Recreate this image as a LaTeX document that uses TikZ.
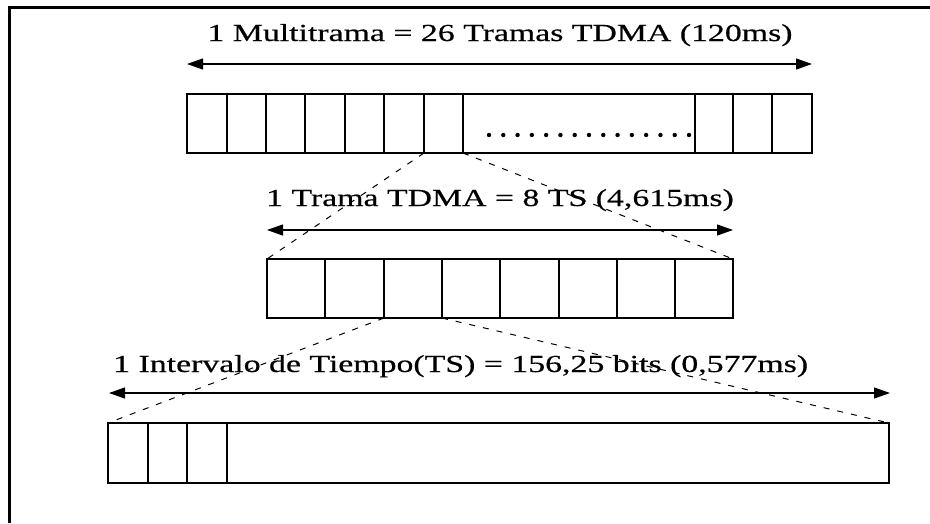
\documentclass[tikz,border=0pt]{standalone}
\usepackage{fontspec}
\setmainfont{Liberation Serif}[FakeBold=0.4]
\usetikzlibrary{arrows.meta}
\begin{document}
\begin{tikzpicture}[x=1pt,y=-1pt,
  cell/.style={draw, line width=1.2pt, inner sep=0pt, outer sep=0pt, anchor=north west},
  lbl/.style={inner sep=0pt, font=\fontsize{24.5}{29}\selectfont},
  zoomline/.style={line width=1pt, dash pattern=on 6pt off 8pt},
  dimarrow/.style={line width=1.2pt, {Triangle[length=16pt,width=11pt]}-{Triangle[length=16pt,width=11pt]}},
  frameline/.style={line width=3pt}]
\useasboundingbox (0,0) rectangle (930,523);
\fill[white] (0,0) rectangle (930,523);
% frame
\coordinate (fTR) at (930,7);
\coordinate (fTL) at (9.5,7);
\coordinate (fBL) at (9.5,523);
\draw[frameline] (fTR) -- (fTL) -- (fBL);
% row 1
\foreach \a/\b/\n in {187/227/1,227/266/2,266/305/3,305/345/4,345/384/5,384/424/6,424/463/7,463/695/8,695/733/9,733/772/10,772/812/11}
  \node[cell, minimum width={(\b-\a)*1pt}, minimum height=59pt] (r1c\n) at (\a,94) {};
\foreach \i in {0,...,14}
  \fill ({489+\i*200/14},135) circle (2.2pt);
% row 2
\foreach \a/\b/\n in {267/325/1,325/384/2,384/442/3,442/500/4,500/559/5,559/617/6,617/675/7,675/733/8}
  \node[cell, minimum width={(\b-\a)*1pt}, minimum height=59pt] (r2c\n) at (\a,259) {};
% row 3
\foreach \a/\b/\n in {108/148/1,148/187/2,187/227/3,227/889/4}
  \node[cell, minimum width={(\b-\a)*1pt}, minimum height=60pt] (r3c\n) at (\a,423) {};
% labels
\node[lbl, anchor=base] (t1) at (500,41) {\scalebox{1.38}[1]{1 Multitrama = 26 Tramas TDMA (120ms)}};
\node[lbl, anchor=base] (t2) at (500,206) {\scalebox{1.38}[1]{1 Trama TDMA = 8 TS (4,615ms)}};
\node[lbl, anchor=base west] (t3) at (113,372) {\scalebox{1.38}[1]{1 Intervalo de Tiempo(TS) = 156,25 bits (0,577ms)}};
% dimension arrows
\coordinate (a1l) at (187,64); \coordinate (a1r) at (812,64);
\coordinate (a2l) at (267,230); \coordinate (a2r) at (733,230);
\coordinate (a3l) at (109,393); \coordinate (a3r) at (890,393);
\draw[dimarrow] (a1l) -- (a1r);
\draw[dimarrow] (a2l) -- (a2r);
\draw[dimarrow] (a3l) -- (a3r);
% zoom lines
\draw[zoomline] (r1c7.south west) -- (r2c1.north west);
\draw[zoomline] (r1c7.south east) -- (r2c8.north east);
\draw[zoomline] (r2c3.south west) -- (r3c1.north west);
\draw[zoomline] (r2c3.south east) -- (r3c4.north east);
\end{tikzpicture}
\end{document}
